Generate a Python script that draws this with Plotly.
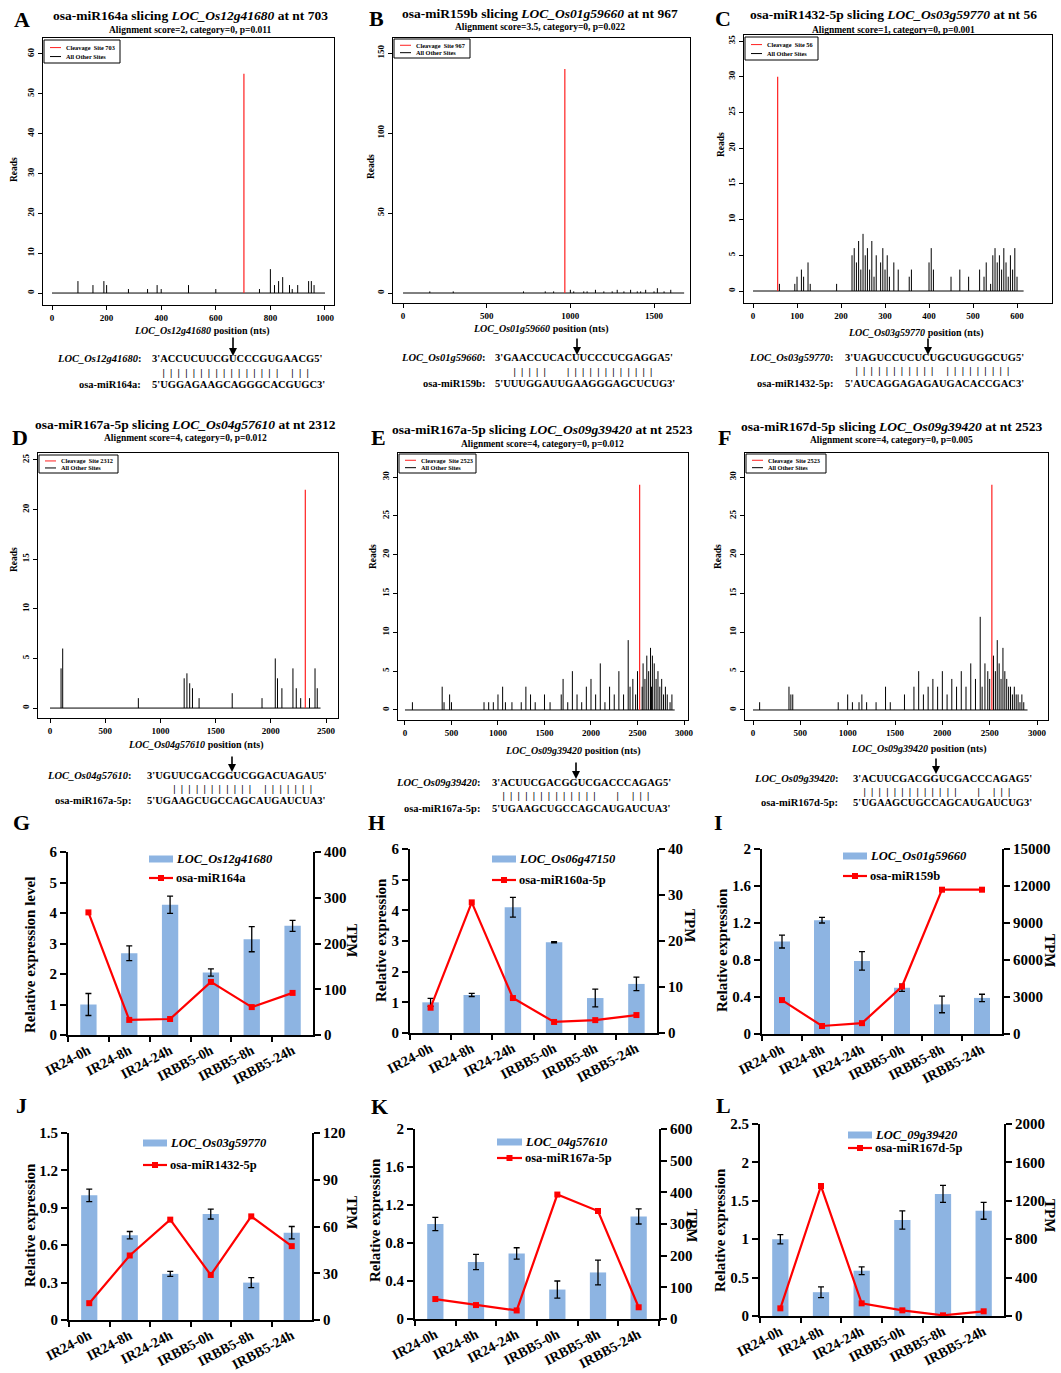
import plotly.graph_objects as go

W, H = 1061, 1373
SERIF = "Liberation Serif"

# ====================== DATA ======================
# ---- Panel A: osa-miR164a / LOC_Os12g41680 ----
A_len = 1000
A_cleave_pos = [703]
A_cleave_reads = [55]
A_pos = [95, 150, 190, 200, 280, 350, 385, 400, 500, 600, 760, 800, 815, 830, 845, 870, 880, 900, 940, 950, 960]
A_reads = [3, 2, 3, 2, 1, 1, 2, 1, 2, 1, 1, 6, 2, 3, 4, 2, 1, 2, 3, 3, 2]

# ---- Panel B: osa-miR159b / LOC_Os01g59660 ----
B_len = 1680
B_cleave_pos = [967]
B_cleave_reads = [140]
B_pos = [160, 300, 720, 850, 900, 1000, 1020, 1080, 1100, 1150, 1200, 1250, 1280, 1320, 1360, 1400, 1420, 1450, 1500, 1520, 1560, 1600]
B_reads = [1, 1, 1, 1, 1, 2, 1, 1, 1, 2, 1, 1, 2, 1, 2, 1, 1, 2, 1, 3, 1, 2]

# ---- Panel C: osa-miR1432-5p / LOC_Os03g59770 ----
C_len = 615
C_cleave_pos = [56]
C_cleave_reads = [30]
C_pos = [60, 95, 100, 110, 115, 125, 130, 190, 225, 230, 235, 240, 245, 250, 255, 260, 265, 270, 275, 280,
         290, 295, 300, 305, 310, 320, 330, 355, 360, 400, 405, 410, 450, 470, 490, 515, 525, 530, 540, 545,
         550, 555, 560, 565, 570, 575, 580, 585, 590, 595, 600]
C_reads = [1, 1, 2, 3, 2, 4, 1, 1, 5, 6, 4, 7, 3, 8, 5, 6, 3, 7, 2, 5,
           4, 6, 3, 5, 2, 4, 3, 2, 3, 4, 6, 3, 2, 3, 2, 3, 2, 4, 1, 5,
           6, 4, 5, 3, 6, 4, 2, 5, 3, 6, 2]

# ---- Panel D: osa-miR167a-5p / LOC_Os04g57610 ----
D_len = 2450
D_cleave_pos = [2312]
D_cleave_reads = [22]
D_pos = [100, 115, 800, 1215, 1240, 1265, 1290, 1350, 1650, 1920, 2040, 2060, 2100, 2200, 2230, 2270, 2350, 2400, 2420]
D_reads = [4, 6, 1, 3, 3.5, 2.5, 2, 1, 1.5, 1, 5, 3, 2, 4, 2, 1, 1, 4, 2]

# ---- Panel E: osa-miR167a-5p / LOC_Os09g39420 ----
E_len = 2900
E_cleave_pos = [2523]
E_cleave_reads = [29]
E_pos = [80, 400, 420, 480, 500, 850, 900, 950, 1000, 1050, 1080, 1150, 1250, 1300, 1350, 1400, 1500, 1560,
         1680, 1700, 1750, 1800, 1850, 1900, 1950, 2000, 2050, 2100, 2150, 2200, 2250, 2300, 2350, 2400,
         2420, 2450, 2480, 2500, 2550, 2560, 2580, 2600, 2620, 2640, 2650, 2660, 2680, 2700, 2720, 2740,
         2760, 2780, 2800, 2820, 2850, 2870]
E_reads = [1, 3, 1, 2, 1, 1, 1, 1, 2, 3, 1, 1, 1, 3, 2, 1, 2, 1,
           2, 4, 1, 5, 2, 1, 3, 4, 2, 6, 1, 3, 2, 5, 2, 9,
           3, 4, 2, 5, 3, 6, 4, 7, 5, 8, 3, 7, 6, 4, 5, 3,
           4, 2, 3, 2, 1, 2]

# ---- Panel F: osa-miR167d-5p / LOC_Os09g39420 ----
F_len = 2900
F_cleave_pos = [2523]
F_cleave_reads = [29]
F_pos = [70, 380, 400, 420, 900, 1000, 1050, 1120, 1150, 1200, 1300, 1400, 1450, 1600, 1700, 1750, 1800,
         1850, 1900, 1950, 2000, 2050, 2100, 2150, 2200, 2250, 2300, 2350, 2400, 2420, 2450, 2480, 2500,
         2540, 2560, 2580, 2600, 2620, 2640, 2660, 2680, 2700, 2720, 2740, 2760, 2780, 2800, 2820, 2840, 2860]
F_reads = [1, 3, 2, 2, 1, 2, 1, 1, 2, 1, 1, 3, 1, 2, 3, 5, 2,
           3, 4, 3, 5, 2, 4, 3, 5, 3, 6, 4, 12, 3, 6, 5, 4,
           7, 5, 9, 6, 4, 8, 5, 4, 3, 3, 2, 3, 2, 2, 1, 2, 1]

# ---- Alignment texts ----
A_title = "osa-miR164a slicing <i>LOC_Os12g41680</i> at nt 703"
B_title = "osa-miR159b slicing <i>LOC_Os01g59660</i> at nt 967"
C_title = "osa-miR1432-5p slicing <i>LOC_Os03g59770</i> at nt 56"
D_title = "osa-miR167a-5p slicing <i>LOC_Os04g57610</i> at nt 2312"
E_title = "osa-miR167a-5p slicing <i>LOC_Os09g39420</i> at nt 2523"
F_title = "osa-miR167d-5p slicing <i>LOC_Os09g39420</i> at nt 2523"
A_sub = "Alignment score=2, category=0, p=0.011"
B_sub = "Alignment score=3.5, category=0, p=0.022"
C_sub = "Alignment score=1, category=0, p=0.001"
D_sub = "Alignment score=4, category=0, p=0.012"
E_sub = "Alignment score=4, category=0, p=0.012"
F_sub = "Alignment score=4, category=0, p=0.005"
A_gene, A_mir = "LOC_Os12g41680", "osa-miR164a"
B_gene, B_mir = "LOC_Os01g59660", "osa-miR159b"
C_gene, C_mir = "LOC_Os03g59770", "osa-miR1432-5p"
D_gene, D_mir = "LOC_Os04g57610", "osa-miR167a-5p"
E_gene, E_mir = "LOC_Os09g39420", "osa-miR167a-5p"
F_gene, F_mir = "LOC_Os09g39420", "osa-miR167d-5p"
A_target_seq, A_mir_seq, A_pairs = "3'ACCUCUUCGUCCCGUGAACG5'", "5'UGGAGAAGCAGGGCACGUGC3'", "|||||||||||||||| |||"
B_target_seq, B_mir_seq, B_pairs = "3'GAACCUCACUUCCCUCGAGGA5'", "5'UUUGGAUUGAAGGGAGCUCUG3'", " |||||  ||||||||||||"
C_target_seq, C_mir_seq, C_pairs = "3'UAGUCCUCUCUGCUGUGGCUG5'", "5'AUCAGGAGAGAUGACACCGAC3'", "||||||||||| |||||||||"
D_target_seq, D_mir_seq, D_pairs = "3'UGUUCGACGGUCGGACUAGAU5'", "5'UGAAGCUGCCAGCAUGAUCUA3'", "  ||||||||||| |||||||"
E_target_seq, E_mir_seq, E_pairs = "3'ACUUCGACGGUCGACCCAGAG5'", "5'UGAAGCUGCCAGCAUGAUCUA3'", "|||||||||||||  | ||| "
F_target_seq, F_mir_seq, F_pairs = "3'ACUUCGACGGUCGACCCAGAG5'", "5'UGAAGCUGCCAGCAUGAUCUG3'", "|||||||||||||  | ||| "

# ---- Panels G-L: qRT-PCR (bars) and small RNA TPM (lines) ----
samples = ["IR24-0h", "IR24-8h", "IR24-24h", "IRBB5-0h", "IRBB5-8h", "IRBB5-24h"]

G_gene, G_mir = "LOC_Os12g41680", "osa-miR164a"
G_expr = [1.0, 2.68, 4.27, 2.05, 3.14, 3.58]
G_err = [0.36, 0.24, 0.28, 0.12, 0.41, 0.18]
G_tpm = [268, 33, 35, 116, 61, 92]

H_gene, H_mir = "LOC_Os06g47150", "osa-miR160a-5p"
H_expr = [1.0, 1.24, 4.1, 2.96, 1.14, 1.6]
H_err = [0.13, 0.05, 0.32, 0.02, 0.29, 0.22]
H_tpm = [5.5, 28.4, 7.6, 2.4, 2.8, 3.9]

I_gene, I_mir = "LOC_Os01g59660", "osa-miR159b"
I_expr = [1.0, 1.23, 0.79, 0.5, 0.32, 0.39]
I_err = [0.07, 0.03, 0.1, 0.04, 0.09, 0.04]
I_tpm = [2750, 650, 880, 3850, 11700, 11700]

J_gene, J_mir = "LOC_Os03g59770", "osa-miR1432-5p"
J_expr = [1.0, 0.68, 0.37, 0.85, 0.30, 0.70]
J_err = [0.05, 0.03, 0.02, 0.04, 0.04, 0.05]
J_tpm = [10.8, 41.4, 64.4, 28.9, 66.5, 47.4]

K_gene, K_mir = "LOC_04g57610", "osa-miR167a-5p"
K_expr = [1.0, 0.6, 0.69, 0.31, 0.49, 1.08]
K_err = [0.07, 0.08, 0.06, 0.09, 0.13, 0.08]
K_tpm = [63, 44, 27, 393, 341, 37]

L_gene, L_mir = "LOC_09g39420", "osa-miR167d-5p"
L_expr = [1.0, 0.31, 0.59, 1.25, 1.59, 1.37]
L_err = [0.06, 0.07, 0.05, 0.12, 0.11, 0.11]
L_tpm = [80, 1354, 132, 59, 7, 49]

# ====================== HELPERS ======================
def fx(p):
    return p / W


def fy(p):
    return 1 - p / H


def ann(x, y, text, size, xanchor="center", yanchor="middle", angle=0, color="black"):
    return dict(x=fx(x), y=fy(y), xref="paper", yref="paper", text=text, showarrow=False,
                xanchor=xanchor, yanchor=yanchor, textangle=angle,
                font=dict(family=SERIF, size=size, color=color))


def spikes(pos, reads):
    xs, ys = [], []
    for p, r in zip(pos, reads):
        xs += [p, p, None]
        ys += [0, r, None]
    return xs, ys


def pair_string(pattern):
    out = "\u00a0" * 4
    for c in pattern:
        out += ("|" + "\u00a0" * 2) if c == "|" else "\u00a0" * 3
    return out


fig = go.Figure()
layout = dict(width=W, height=H, margin=dict(l=0, r=0, t=0, b=0, pad=0, autoexpand=False),
              paper_bgcolor="white", plot_bgcolor="white", showlegend=False)
annotations = []
shapes = []

# ====================== PANELS A-F ======================
top = [
    dict(letter="A", L=A_len, cp=A_cleave_pos, cr=A_cleave_reads, op=A_pos, orr=A_reads,
         title=A_title, sub=A_sub, gene=A_gene, mir=A_mir, ts=A_target_seq, ms=A_mir_seq, pr=A_pairs,
         box=(43, 334, 38, 305), xr=(-33, 1033), yr=(-3.0, 64.0), xd=200, yd=10,
         lp=(22, 19), tc=(190, 16, 30), lg=(44, 40, 120, 63), rd=(14, 170), pl=(201, 331),
         al=(143, 150, 358, 372, 384), arw=(233, 336, 356)),
    dict(letter="B", L=B_len, cp=B_cleave_pos, cr=B_cleave_reads, op=B_pos, orr=B_reads,
         title=B_title, sub=B_sub, gene=B_gene, mir=B_mir, ts=B_target_seq, ms=B_mir_seq, pr=B_pairs,
         box=(393, 690, 38, 303), xr=(-60, 1715), yr=(-6.25, 159.4), xd=500, yd=50,
         lp=(376, 18), tc=(540, 13, 27), lg=(394, 39, 470, 58), rd=(371, 167), pl=(540, 329),
         al=(487, 493, 357, 371, 383), arw=(577, 337, 355)),
    dict(letter="C", L=C_len, cp=C_cleave_pos, cr=C_cleave_reads, op=C_pos, orr=C_reads,
         title=C_title, sub=C_sub, gene=C_gene, mir=C_mir, ts=C_target_seq, ms=C_mir_seq, pr=C_pairs,
         box=(744, 1052, 35, 303), xr=(-20.5, 679.5), yr=(-1.68, 35.84), xd=100, yd=5,
         lp=(723, 18), tc=(893, 15, 30), lg=(745, 37, 818, 60), rd=(721, 145), pl=(915, 333),
         al=(835, 843, 357, 370, 383), arw=(928, 337, 355)),
    dict(letter="D", L=D_len, cp=D_cleave_pos, cr=D_cleave_reads, op=D_pos, orr=D_reads,
         title=D_title, sub=D_sub, gene=D_gene, mir=D_mir, ts=D_target_seq, ms=D_mir_seq, pr=D_pairs,
         box=(38, 338, 453, 718), xr=(-108.7, 2608), yr=(-1.0, 25.7), xd=500, yd=5,
         lp=(20, 437), tc=(185, 424, 438), lg=(39, 455, 118, 473), rd=(14, 560), pl=(195, 745),
         al=(133, 145, 775, 788, 800), arw=(232, 755, 772)),
    dict(letter="E", L=E_len, cp=E_cleave_pos, cr=E_cleave_reads, op=E_pos, orr=E_reads,
         title=E_title, sub=E_sub, gene=E_gene, mir=E_mir, ts=E_target_seq, ms=E_mir_seq, pr=E_pairs,
         box=(398, 688, 453, 720), xr=(-75, 3043), yr=(-1.29, 33.1), xd=500, yd=5,
         lp=(378, 437), tc=(542, 430, 444), lg=(399, 454, 476, 473), rd=(373, 557), pl=(572, 751),
         al=(482, 490, 783, 796, 808), arw=(576, 761, 779)),
    dict(letter="F", L=F_len, cp=F_cleave_pos, cr=F_cleave_reads, op=F_pos, orr=F_reads,
         title=F_title, sub=F_sub, gene=F_gene, mir=F_mir, ts=F_target_seq, ms=F_mir_seq, pr=F_pairs,
         box=(745, 1048, 453, 720), xr=(-84.5, 3116), yr=(-1.29, 33.1), xd=500, yd=5,
         lp=(724, 437), tc=(891, 426, 440), lg=(746, 454, 826, 473), rd=(718, 557), pl=(918, 749),
         al=(840, 851, 778, 791, 803), arw=(936, 757, 774)),
]

for i, p in enumerate(top):
    n = i + 1
    xa, ya = f"x{n}", f"y{n}"
    # baseline (all sites with zero reads)
    fig.add_trace(go.Scatter(x=[0, p["L"]], y=[0, 0], mode="lines", xaxis=xa, yaxis=ya,
                             line=dict(color="black", width=1), hoverinfo="skip"))
    sx, sy = spikes(p["op"], p["orr"])
    fig.add_trace(go.Scatter(x=sx, y=sy, mode="lines", xaxis=xa, yaxis=ya,
                             line=dict(color="black", width=1), name="All Other Sites"))
    cx, cy = spikes(p["cp"], p["cr"])
    fig.add_trace(go.Scatter(x=cx, y=cy, mode="lines", xaxis=xa, yaxis=ya,
                             line=dict(color="#FF2020", width=1.2), name="Cleavage Site"))
    bx0, bx1, by0, by1 = p["box"]
    common = dict(showline=True, mirror=True, linecolor="black", linewidth=1, ticks="outside",
                  ticklen=4, tickcolor="black", showgrid=False, zeroline=False,
                  tickfont=dict(family=SERIF, size=9, color="black", weight="bold"))
    layout[f"xaxis{n}"] = dict(domain=[fx(bx0), fx(bx1)], range=list(p["xr"]), anchor=ya,
                               tick0=0, dtick=p["xd"], **common)
    layout[f"yaxis{n}"] = dict(domain=[fy(by1), fy(by0)], range=list(p["yr"]), anchor=xa,
                               tick0=0, dtick=p["yd"], tickangle=-90, **common)
    # letter, title, subtitle
    annotations.append(ann(*p["lp"], f"<b>{p['letter']}</b>", 22))
    tcx, ty, sty = p["tc"]
    annotations.append(ann(tcx, ty, f"<b>{p['title']}</b>", 13.5))
    annotations.append(ann(tcx, sty, f"<b>{p['sub']}</b>", 9.5))
    # in-plot legend
    lx0, ly0, lx1, ly1 = p["lg"]
    shapes.append(dict(type="rect", xref="paper", yref="paper", x0=fx(lx0), x1=fx(lx1),
                       y0=fy(ly1), y1=fy(ly0), line=dict(color="black", width=1), fillcolor="white"))
    r1 = ly0 + (ly1 - ly0) * 0.33
    r2 = ly0 + (ly1 - ly0) * 0.72
    shapes.append(dict(type="line", xref="paper", yref="paper", x0=fx(lx0 + 6), x1=fx(lx0 + 17),
                       y0=fy(r1), y1=fy(r1), line=dict(color="#FF2020", width=1)))
    shapes.append(dict(type="line", xref="paper", yref="paper", x0=fx(lx0 + 6), x1=fx(lx0 + 17),
                       y0=fy(r2), y1=fy(r2), line=dict(color="black", width=1)))
    annotations.append(ann(lx0 + 20, r1, f"<b>Cleavage\u00a0 Site {p['cp'][0]}</b>", 6.3, xanchor="left"))
    annotations.append(ann(lx0 + 20, r2, "<b>All Other Sites</b>", 6.3, xanchor="left"))
    # axis titles
    annotations.append(ann(*p["rd"], "<b>Reads</b>", 9.5, angle=-90))
    annotations.append(ann(*p["pl"], f"<b><i>{p['gene']}</i> position (nts)</b>", 10))
    # alignment
    lr, sl, r_t, r_b, r_m = p["al"]
    annotations.append(ann(lr, r_t, f"<b><i>{p['gene']}</i>:</b>", 10.5, xanchor="right"))
    annotations.append(ann(sl, r_t, f"<b>{p['ts']}</b>", 10.5, xanchor="left"))
    annotations.append(ann(sl, r_b, f"<b>{pair_string(p['pr'])}</b>", 10.5, xanchor="left"))
    annotations.append(ann(lr, r_m, f"<b>{p['mir']}:</b>", 10.5, xanchor="right"))
    annotations.append(ann(sl, r_m, f"<b>{p['ms']}</b>", 10.5, xanchor="left"))
    ax_, ay0, ay1 = p["arw"]
    annotations.append(dict(x=fx(ax_), y=fy(ay1), xref="paper", yref="paper", text="",
                            showarrow=True, ax=0, ay=-(ay1 - ay0), arrowhead=2, arrowsize=1,
                            arrowwidth=1.6, arrowcolor="black"))

# ====================== PANELS G-L ======================
bottom = [
    dict(letter="G", gene=G_gene, mir=G_mir, e=G_expr, er=G_err, t=G_tpm,
         box=(68, 313, 852, 1035), yl=(0, 6, 1), yr=(0, 400, 100), lp=(21, 823),
         yt=(30, 955, "Relative expression level"), tp=(352, 940), lg=(149, 173, 859, 878)),
    dict(letter="H", gene=H_gene, mir=H_mir, e=H_expr, er=H_err, t=H_tpm,
         box=(410, 657, 849, 1033), yl=(0, 6, 1), yr=(0, 40, 10), lp=(376, 823),
         yt=(381, 940, "Relative expression"), tp=(690, 925), lg=(492, 516, 859, 880)),
    dict(letter="I", gene=I_gene, mir=I_mir, e=I_expr, er=I_err, t=I_tpm,
         box=(762, 1002, 849, 1034), yl=(0, 2, 0.4), yr=(0, 15000, 3000), lp=(718, 823),
         yt=(722, 950, "Relative expression"), tp=(1050, 950), lg=(843, 867, 856, 876)),
    dict(letter="J", gene=J_gene, mir=J_mir, e=J_expr, er=J_err, t=J_tpm,
         box=(69, 312, 1133, 1320), yl=(0, 1.5, 0.3), yr=(0, 120, 30), lp=(21, 1105),
         yt=(30, 1225, "Relative expression"), tp=(352, 1212), lg=(143, 167, 1143, 1165)),
    dict(letter="K", gene=K_gene, mir=K_mir, e=K_expr, er=K_err, t=K_tpm,
         box=(415, 659, 1129, 1319), yl=(0, 2, 0.4), yr=(0, 600, 100), lp=(379, 1106),
         yt=(375, 1220, "Relative expression"), tp=(692, 1225), lg=(497, 522, 1142, 1158)),
    dict(letter="L", gene=L_gene, mir=L_mir, e=L_expr, er=L_err, t=L_tpm,
         box=(760, 1004, 1124, 1316), yl=(0, 2.5, 0.5), yr=(0, 2000, 400), lp=(723, 1105),
         yt=(720, 1230, "Relative expression"), tp=(1050, 1215), lg=(848, 872, 1135, 1148)),
]

BAR = "#8DB4E2"
RED = "#FF0000"
for i, p in enumerate(bottom):
    n = 7 + i
    m = 13 + i
    xa, ya, ya2 = f"x{n}", f"y{n}", f"y{m}"
    fig.add_trace(go.Bar(x=samples, y=p["e"], xaxis=xa, yaxis=ya, width=0.4,
                         marker=dict(color=BAR, line=dict(width=0)), name=p["gene"],
                         error_y=dict(type="data", array=p["er"], color="black", thickness=1.3, width=3)))
    fig.add_trace(go.Scatter(x=samples, y=p["t"], xaxis=xa, yaxis=ya2, mode="lines+markers",
                             line=dict(color=RED, width=2.2), marker=dict(symbol="square", size=6, color=RED),
                             name=p["mir"]))
    bx0, bx1, by0, by1 = p["box"]
    tf = dict(family=SERIF, size=15, color="black", weight="bold")
    xtf = dict(family=SERIF, size=14, color="black", weight="bold")
    layout[f"xaxis{n}"] = dict(domain=[fx(bx0), fx(bx1)], anchor=ya, type="category",
                               categoryorder="array", categoryarray=samples, range=[-0.5, 5.5],
                               tickson="boundaries", ticks="outside", ticklen=5, tickwidth=1.5,
                               tickcolor="black", showline=True, linecolor="black", linewidth=2,
                               showgrid=False, zeroline=False, tickangle=-28, tickfont=xtf,
                               automargin=False)
    y0, y1, yd = p["yl"]
    layout[f"yaxis{n}"] = dict(domain=[fy(by1), fy(by0)], anchor=xa, range=[y0, y1], tick0=0, dtick=yd,
                               ticks="outside", ticklen=6, tickwidth=1.5, tickcolor="black",
                               showline=True, linecolor="black", linewidth=2, showgrid=False,
                               zeroline=False, tickfont=tf, exponentformat="none", automargin=False)
    r0, r1, rdt = p["yr"]
    layout[f"yaxis{m}"] = dict(overlaying=ya, side="right", anchor=xa, range=[r0, r1], tick0=0, dtick=rdt,
                               ticks="outside", ticklen=6, tickwidth=1.5, tickcolor="black",
                               showline=True, linecolor="black", linewidth=2, showgrid=False,
                               zeroline=False, tickfont=tf, exponentformat="none", tickformat="d",
                               automargin=False)
    annotations.append(ann(*p["lp"], f"<b>{p['letter']}</b>", 22))
    tx, tyy, ttext = p["yt"]
    annotations.append(ann(tx, tyy, f"<b>{ttext}</b>", 15, angle=-90))
    annotations.append(ann(*p["tp"], "<b>TPM</b>", 15, angle=90))
    # legend
    lx0, lx1, sy_, ry_ = p["lg"]
    shapes.append(dict(type="rect", xref="paper", yref="paper", x0=fx(lx0), x1=fx(lx1),
                       y0=fy(sy_ + 3.5), y1=fy(sy_ - 3.5), line=dict(width=0), fillcolor=BAR))
    shapes.append(dict(type="line", xref="paper", yref="paper", x0=fx(lx0), x1=fx(lx1),
                       y0=fy(ry_), y1=fy(ry_), line=dict(color=RED, width=2.2)))
    mc = (lx0 + lx1) / 2
    shapes.append(dict(type="rect", xref="paper", yref="paper", x0=fx(mc - 3), x1=fx(mc + 3),
                       y0=fy(ry_ + 3), y1=fy(ry_ - 3), line=dict(width=0), fillcolor=RED))
    annotations.append(ann(lx1 + 1, sy_, f"<b><i>{p['gene']}</i></b>", 12.5, xanchor="left"))
    annotations.append(ann(lx1 + 1, ry_, f"<b>{p['mir']}</b>", 12.5, xanchor="left"))

layout["annotations"] = annotations
layout["shapes"] = shapes
fig.update_layout(**layout)
fig.write_html("out.html", config={"displayModeBar": False, "responsive": False},
               post_script="document.body.style.margin='0px';document.body.style.padding='0px';"
                           "document.body.style.overflow='hidden';")
